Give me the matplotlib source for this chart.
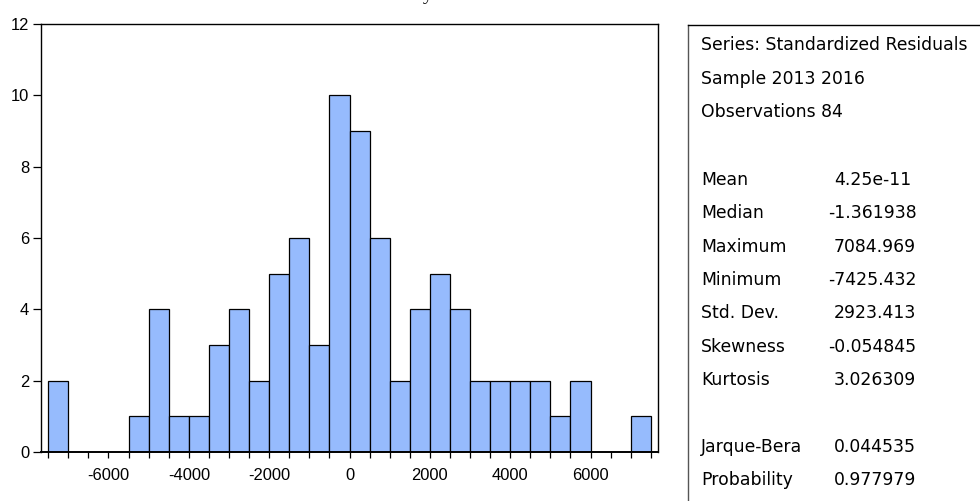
import numpy as np
import matplotlib
matplotlib.use("Agg")
import matplotlib.pyplot as plt
from matplotlib.lines import Line2D

# histogram of residuals, bins of 500
bin_edges = np.arange(-7500, 7501, 500)
counts = [2, 0, 0, 0, 1, 4, 1, 1, 3, 4, 2, 5, 6, 3, 10, 9,
          6, 2, 4, 5, 4, 2, 2, 2, 2, 1, 2, 0, 0, 1]

x_labels = [-6000, -4000, -2000, 0, 2000, 4000, 6000]
y_ticks = [0, 2, 4, 6, 8, 10, 12]

stat_names = ["Mean", "Median", "Maximum", "Minimum", "Std. Dev.",
              "Skewness", "Kurtosis"]
stat_values = ["4.25e-11", "-1.361938", "7084.969", "-7425.432",
               "2923.413", "-0.054845", "3.026309"]
test_names = ["Jarque-Bera", "Probability"]
test_values = ["0.044535", "0.977979"]
header = ["Series: Standardized Residuals", "Sample 2013 2016",
          "Observations 84"]

W, H = 980, 501
fig = plt.figure(figsize=(W / 100, H / 100), dpi=100)
ax = fig.add_axes([41 / W, (H - 452) / H, (658 - 41) / W, (452 - 24) / H])

ax.bar(bin_edges[:-1], counts, width=500, align="edge",
       color="#96bbfd", edgecolor="black", linewidth=0.9)

ax.set_xlim(-7680, 7680)
ax.set_ylim(0, 12)
ax.set_xticks(bin_edges)
ax.set_xticklabels([str(e) if e in x_labels else "" for e in bin_edges])
ax.set_yticks(y_ticks)
ax.set_yticklabels([str(v) for v in y_ticks])
ax.tick_params(axis="x", direction="out", length=4.3, width=0.9, pad=7)
ax.tick_params(axis="y", direction="out", length=5.5, width=0.9, pad=3)
for lab in ax.get_xticklabels() + ax.get_yticklabels():
    lab.set_fontfamily("Liberation Sans")
    lab.set_fontsize(11.9)
for s in ax.spines.values():
    s.set_linewidth(1.0)
ax.spines["bottom"].set_linewidth(1.4)

# cut-off title at very top
fig.text(428 / W, 1.0, "y", family="Liberation Serif", fontsize=14,
         ha="center", va="baseline")

# statistics panel
fig.add_artist(Line2D([688 / W, 688 / W], [0, (H - 25) / H], color="#555555",
                      linewidth=1.0, transform=fig.transFigure))
fig.add_artist(Line2D([688 / W, 1.0], [(H - 25) / H, (H - 25) / H], color="black",
                      linewidth=1.0, transform=fig.transFigure))

fs = 12.4
lab_x = 701 / W


def row(y_px, label, value=None):
    fig.text(lab_x, (H - y_px) / H, label, family="DejaVu Sans", fontsize=fs,
             ha="left", va="center")
    if value is not None:
        vx = 828 if value.startswith("-") else 834
        fig.text(vx / W, (H - y_px) / H, value, family="DejaVu Sans",
                 fontsize=fs, ha="left", va="center")


for i, h in enumerate(header):
    row(45 + i * 33.5, h)
for i, (n, v) in enumerate(zip(stat_names, stat_values)):
    row(180 + i * 33.3, n, v)
for i, (n, v) in enumerate(zip(test_names, test_values)):
    row(447 + i * 33.3, n, v)

fig.savefig("out.png", dpi=100)
